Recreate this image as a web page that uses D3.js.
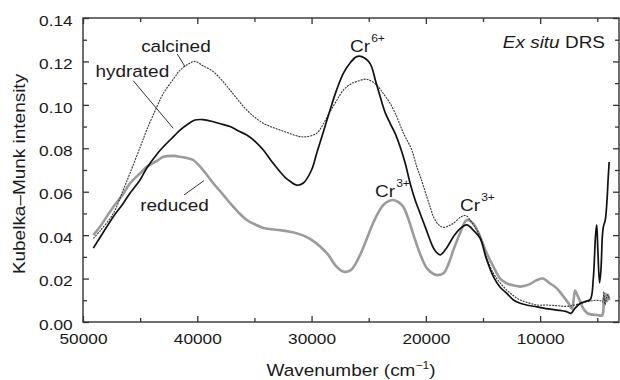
<!DOCTYPE html>
<html>
<head>
<meta charset="utf-8">
<script src="https://cdn.jsdelivr.net/npm/d3@7"></script>
<style>
  body { margin: 0; background: #fff; }
  svg text { font-family: "Liberation Sans", Arial, Helvetica, sans-serif; fill: #1a1a1a; }
</style>
</head>
<body>
<svg id="chart" width="620" height="380"></svg>
<script>
// Kubelka-Munk spectra (wavenumber in cm^-1, KM intensity)
const calcinedWn = [49100,48500,47350,46500,45890,45000,44430,43500,42970,42000,41510,40700,40200,39500,38600,37800,37130,36400,35670,34900,34220,33500,32760,32000,31150,30500,29550,29000,28380,27800,27220,26600,26050,25170,24290,23700,23130,22500,21960,21290,20790,20420,19920,19560,19340,18870,18460,18000,17590,16900,16500,16000,15250,14700,14090,13500,12920,12300,11750,11000,10290,9500,8500,7700,7000,6500,6000,5500,5000,4700,4550,4420,4330,4200,4100,3950];
const calcinedKM = [0.0385,0.042,0.050,0.0605,0.0685,0.0805,0.0884,0.0995,0.1053,0.1125,0.116,0.119,0.120,0.118,0.1153,0.111,0.1068,0.102,0.0976,0.094,0.0915,0.0898,0.0884,0.087,0.0855,0.0853,0.0869,0.091,0.0969,0.102,0.1068,0.1095,0.1107,0.1118,0.1091,0.105,0.1007,0.094,0.0869,0.080,0.0715,0.066,0.0577,0.052,0.0485,0.0447,0.0436,0.0443,0.0454,0.0485,0.049,0.046,0.0393,0.030,0.0224,0.018,0.0147,0.012,0.0101,0.0088,0.0078,0.0078,0.0075,0.0072,0.0078,0.0085,0.0092,0.0098,0.0100,0.0098,0.0092,0.0140,0.0080,0.0110,0.0125,0.0105];

const hydratedWn = [49100,48500,47350,46500,45890,45000,44430,43500,42970,42000,41510,40800,40200,39500,38600,37800,37130,36400,35670,34900,34220,33500,32760,32300,31880,31300,30720,30000,29550,29000,28380,27800,27220,26600,26050,25610,24880,24400,24000,23600,23130,22700,22250,21800,21380,20940,20500,20000,19500,19210,18750,18200,17590,17000,16420,15800,15250,14700,14090,13500,12920,12300,11750,11000,10290,9500,8500,7700,7300,7000,6500,6000,5600,5350,5150,5050,4950,4800,4680,4550,4460,4300,4150,4050,3960];
const hydratedKM = [0.034,0.039,0.0485,0.0545,0.0593,0.0655,0.0708,0.0775,0.0807,0.0858,0.0884,0.0912,0.093,0.0932,0.0922,0.091,0.090,0.088,0.0861,0.083,0.0792,0.074,0.0692,0.0665,0.0648,0.063,0.064,0.070,0.0777,0.087,0.0976,0.107,0.1145,0.1195,0.1222,0.1222,0.119,0.111,0.1038,0.097,0.0915,0.087,0.0807,0.073,0.0639,0.0562,0.050,0.043,0.036,0.033,0.0309,0.034,0.0393,0.043,0.0447,0.042,0.0385,0.029,0.0209,0.016,0.0132,0.010,0.0086,0.0076,0.0070,0.0062,0.0055,0.0048,0.0040,0.0060,0.0085,0.0095,0.0105,0.020,0.040,0.0447,0.033,0.018,0.024,0.040,0.044,0.047,0.056,0.066,0.0737];

const reducedWn = [49100,48500,47350,46500,45890,45000,44430,43500,42970,42000,41510,40900,40350,39500,38600,37800,37130,36400,35670,34900,34220,33500,32760,32000,31200,30500,30000,29300,28550,27900,27200,26600,26130,25500,24750,24200,23710,23200,22840,22400,21980,21500,20940,20400,19900,19280,18950,18460,18000,17590,17000,16420,15800,15250,14700,14090,13500,12920,12300,11750,11000,10290,9740,9200,8540,8000,7520,7230,7100,6940,6800,6500,6200,5800,5000,4600,4500,4420,4350,4250,4150,4050,3950];
const reducedKM = [0.040,0.044,0.053,0.0588,0.0639,0.0685,0.0715,0.0743,0.0761,0.0765,0.0761,0.0755,0.0746,0.070,0.0639,0.059,0.0547,0.0505,0.047,0.0448,0.0433,0.0427,0.0423,0.0417,0.0407,0.0393,0.0378,0.035,0.031,0.026,0.0232,0.0238,0.027,0.034,0.0439,0.050,0.0539,0.0558,0.0562,0.0552,0.0531,0.047,0.0378,0.030,0.0247,0.0220,0.0216,0.0224,0.027,0.0332,0.041,0.047,0.045,0.0393,0.032,0.0255,0.020,0.0178,0.0168,0.0163,0.0172,0.0193,0.0200,0.018,0.0155,0.012,0.0086,0.0060,0.0090,0.0145,0.013,0.0095,0.006,0.0038,0.0032,0.0030,0.0040,0.0115,0.0080,0.0130,0.0095,0.0125,0.0100];

const xMajorTicks = [50000,40000,30000,20000,10000];
const xMinorTicks = [45000,35000,25000,15000,5000];
const yMajorTicks = [0,0.02,0.04,0.06,0.08,0.10,0.12,0.14];
const yMinorTicks = [0.01,0.03,0.05,0.07,0.09,0.11,0.13];

const svg = d3.select("#chart");
const m = { left: 83, right: 619, top: 18, bottom: 322 };
const stretch = "scale(1.15,1)";

const x = d3.scaleLinear().domain([50000, 3100]).range([m.left, m.right]);
const y = d3.scaleLinear().domain([0, 0.14]).range([m.bottom, m.top]);

// axes with inward ticks on all four sides
function tickAxis(axisFn, scale, values, size, labels, pad) {
  return axisFn(scale).tickValues(values).tickSizeInner(-size).tickSizeOuter(0)
    .tickPadding(pad || 3).tickFormat(labels ? labels : "");
}
const axisColor = "#333";
function styleAxis(g) {
  g.select(".domain").remove();
  g.selectAll(".tick line").attr("stroke", axisColor).attr("stroke-width", 1.3);
}

const gx = svg.append("g").attr("transform", `translate(0,${m.bottom})`)
  .call(tickAxis(d3.axisBottom, x, xMajorTicks, 6, d3.format("d"), 11.5)).call(styleAxis);
gx.selectAll("text").attr("font-size", 15).attr("fill", "#1a1a1a").attr("transform", stretch);
svg.append("g").attr("transform", `translate(0,${m.bottom})`)
  .call(tickAxis(d3.axisBottom, x, xMinorTicks, 4)).call(styleAxis);
svg.append("g").attr("transform", `translate(0,${m.top})`)
  .call(tickAxis(d3.axisTop, x, xMajorTicks, 6)).call(styleAxis);
svg.append("g").attr("transform", `translate(0,${m.top})`)
  .call(tickAxis(d3.axisTop, x, xMinorTicks, 4)).call(styleAxis);

const gy = svg.append("g").attr("transform", `translate(${m.left},0)`)
  .call(tickAxis(d3.axisLeft, y, yMajorTicks, 6, d3.format(".2f"), 9)).call(styleAxis);
gy.selectAll("text").attr("font-size", 15).attr("fill", "#1a1a1a").attr("dy", "0.48em").attr("transform", stretch);
svg.append("g").attr("transform", `translate(${m.left},0)`)
  .call(tickAxis(d3.axisLeft, y, yMinorTicks, 4)).call(styleAxis);
svg.append("g").attr("transform", `translate(${m.right},0)`)
  .call(tickAxis(d3.axisRight, y, yMajorTicks, 6)).call(styleAxis);
svg.append("g").attr("transform", `translate(${m.right},0)`)
  .call(tickAxis(d3.axisRight, y, yMinorTicks, 4)).call(styleAxis);

svg.selectAll("g text").style("font-family", "'Liberation Sans', Arial, sans-serif");

// frame
svg.append("rect").attr("x", m.left).attr("y", m.top)
  .attr("width", m.right - m.left).attr("height", m.bottom - m.top)
  .attr("fill", "none").attr("stroke", axisColor).attr("stroke-width", 1.4);

// spectra
const line = d3.line().x(d => x(d[0])).y(d => y(d[1])).curve(d3.curveCatmullRom.alpha(0.5));
const series = [
  { wn: reducedWn, km: reducedKM, color: "#9b9b9b", width: 2.6, dash: null },
  { wn: calcinedWn, km: calcinedKM, color: "#333", width: 1.1, dash: "2,1" },
  { wn: hydratedWn, km: hydratedKM, color: "#111", width: 1.7, dash: null }
];
svg.append("clipPath").attr("id", "plotclip").append("rect")
  .attr("x", m.left).attr("y", m.top).attr("width", m.right - m.left).attr("height", m.bottom - m.top);
svg.append("g").attr("clip-path", "url(#plotclip)")
  .selectAll("path").data(series).join("path")
  .attr("d", s => line(d3.zip(s.wn, s.km)))
  .attr("fill", "none")
  .attr("stroke", s => s.color)
  .attr("stroke-width", s => s.width)
  .attr("stroke-dasharray", s => s.dash)
  .attr("stroke-linejoin", "round");

// labels and leader lines (data coordinates)
const labels = [
  { text: "calcined", wn: 41870, km: 0.1244, anchor: "middle" },
  { text: "hydrated", wn: 45686, km: 0.1127, anchor: "middle" },
  { text: "reduced", wn: 41994, km: 0.0511, anchor: "middle" }
];
const leaders = [
  [[41750, 0.1234], [41075, 0.1176]],
  [[45600, 0.1111], [42100, 0.0892]],
  [[41163, 0.0585], [39413, 0.0651]]
];
svg.selectAll(".leader").data(leaders).join("line")
  .attr("x1", d => x(d[0][0])).attr("y1", d => y(d[0][1]))
  .attr("x2", d => x(d[1][0])).attr("y2", d => y(d[1][1]))
  .attr("stroke", "#333").attr("stroke-width", 1);

svg.selectAll(".lbl").data(labels).join("text")
  .attr("transform", d => `translate(${x(d.wn)},${y(d.km)}) ${stretch}`)
  .attr("text-anchor", d => d.anchor)
  .attr("font-size", 16.5)
  .text(d => d.text);

// oxidation-state labels
const ions = [
  { base: "Cr", sup: "6+", wn: 26638, km: 0.1245 },
  { base: "Cr", sup: "3+", wn: 24450, km: 0.0577 },
  { base: "Cr", sup: "3+", wn: 17013, km: 0.0511 }
];
ions.forEach(d => {
  const t = svg.append("text")
    .attr("transform", `translate(${x(d.wn)},${y(d.km)}) ${stretch}`)
    .attr("font-size", 16.5);
  t.append("tspan").text(d.base);
  t.append("tspan").attr("font-size", 10.5).attr("dy", -10).attr("dx", 1).text(d.sup);
});

// panel tag
const tag = svg.append("text")
  .attr("transform", `translate(${x(4326)},${y(0.126)}) ${stretch}`)
  .attr("text-anchor", "end").attr("font-size", 16.5);
tag.append("tspan").attr("font-style", "italic").text("Ex situ");
tag.append("tspan").text(" DRS");

// axis titles
const xt = svg.append("text")
  .attr("transform", `translate(${(m.left + m.right) / 2},376) ${stretch}`)
  .attr("text-anchor", "middle").attr("font-size", 16.5);
xt.append("tspan").text("Wavenumber (cm");
xt.append("tspan").attr("font-size", 10.5).attr("dy", -7).text("\u22121");
xt.append("tspan").attr("dy", 7).text(")");

svg.append("text")
  .attr("transform", `translate(25,${(m.top + m.bottom) / 2 + 4}) rotate(-90) ${stretch}`)
  .attr("text-anchor", "middle").attr("font-size", 16.5)
  .text("Kubelka\u2013Munk intensity");
</script>
</body>
</html>
